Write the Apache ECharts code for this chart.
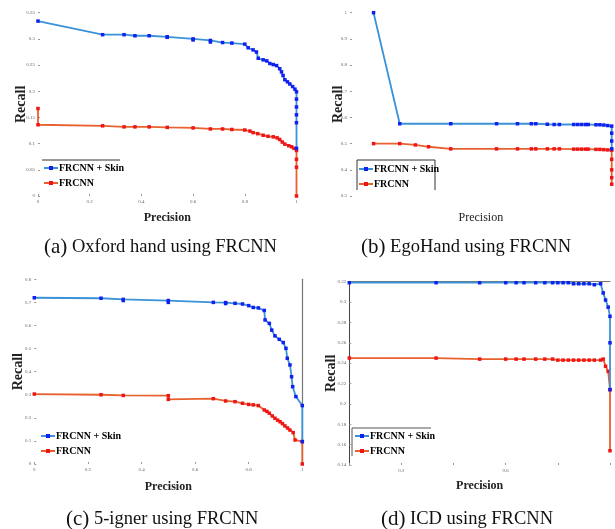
<!DOCTYPE html>
<html>
<head>
<meta charset="utf-8">
<script src="https://cdn.jsdelivr.net/npm/echarts@6/dist/echarts.min.js"></script>
<style>
  html, body { margin: 0; padding: 0; background: #fff; }
  #main { width: 615px; height: 529px; }
</style>
</head>
<body>
<div id="main"></div>
<script>
// [precision, recall] pairs
const oxfordSkin = [[0,0.334],[0.25,0.308],[0.333,0.308],[0.375,0.306],[0.43,0.306],[0.5,0.304],[0.5,0.303],[0.6,0.3],[0.6,0.298],[0.667,0.297],[0.667,0.294],[0.714,0.293],[0.75,0.292],[0.8,0.29],[0.813,0.283],[0.832,0.279],[0.845,0.275],[0.852,0.263],[0.871,0.26],[0.885,0.258],[0.897,0.253],[0.91,0.251],[0.923,0.249],[0.935,0.243],[0.942,0.237],[0.948,0.23],[0.955,0.222],[0.965,0.218],[0.974,0.214],[0.985,0.209],[0.994,0.204],[1,0.199],[1,0.185],[1,0.17],[1,0.155],[1,0.14],[1,0.091]]
const oxfordBase = [[0,0.167],[0,0.136],[0.25,0.134],[0.333,0.132],[0.375,0.132],[0.43,0.132],[0.5,0.131],[0.6,0.13],[0.667,0.128],[0.714,0.128],[0.75,0.127],[0.8,0.126],[0.82,0.124],[0.832,0.121],[0.85,0.119],[0.871,0.116],[0.89,0.114],[0.91,0.113],[0.925,0.111],[0.935,0.108],[0.945,0.103],[0.955,0.099],[0.97,0.096],[0.981,0.094],[0.99,0.091],[1,0.087],[1,0.07],[1,0.055],[1,0]]

const egoSkin = [[0.09,1],[0.19,0.576],[0.385,0.576],[0.56,0.576],[0.64,0.576],[0.693,0.576],[0.71,0.576],[0.754,0.574],[0.78,0.573],[0.8,0.573],[0.855,0.573],[0.87,0.573],[0.885,0.573],[0.9,0.573],[0.91,0.573],[0.94,0.572],[0.955,0.572],[0.97,0.571],[0.985,0.569],[1,0.567],[1,0.54],[1,0.51],[1,0.48]]
const egoBase = [[0.09,0.5],[0.19,0.5],[0.25,0.495],[0.3,0.488],[0.385,0.48],[0.56,0.48],[0.64,0.48],[0.693,0.48],[0.71,0.48],[0.754,0.48],[0.78,0.48],[0.8,0.48],[0.855,0.479],[0.87,0.479],[0.885,0.479],[0.9,0.479],[0.91,0.479],[0.94,0.478],[0.955,0.478],[0.97,0.477],[0.985,0.476],[1,0.475],[1,0.44],[1,0.4],[1,0.37],[1,0.345]]

const fiveSkin = [[0,0.72],[0.249,0.718],[0.332,0.713],[0.332,0.708],[0.5,0.708],[0.5,0.7],[0.668,0.7],[0.714,0.699],[0.714,0.695],[0.749,0.696],[0.777,0.693],[0.8,0.686],[0.817,0.678],[0.836,0.676],[0.858,0.665],[0.861,0.624],[0.877,0.609],[0.886,0.58],[0.898,0.555],[0.914,0.54],[0.929,0.526],[0.939,0.501],[0.944,0.458],[0.954,0.429],[0.96,0.378],[0.964,0.335],[0.976,0.292],[1,0.253],[1,0.097]]
const fiveBase = [[0,0.303],[0.249,0.3],[0.332,0.297],[0.5,0.296],[0.5,0.28],[0.668,0.283],[0.714,0.273],[0.749,0.27],[0.777,0.263],[0.8,0.258],[0.817,0.256],[0.836,0.253],[0.858,0.234],[0.868,0.228],[0.877,0.22],[0.888,0.208],[0.898,0.198],[0.908,0.19],[0.917,0.183],[0.926,0.175],[0.935,0.165],[0.945,0.156],[0.954,0.147],[0.966,0.136],[0.973,0.104],[1,0.097],[1,0]]

const icdSkin = [[0,0.319],[0.333,0.319],[0.5,0.319],[0.6,0.319],[0.64,0.319],[0.67,0.319],[0.715,0.319],[0.75,0.319],[0.78,0.319],[0.8,0.319],[0.82,0.319],[0.84,0.319],[0.86,0.318],[0.88,0.318],[0.9,0.318],[0.92,0.318],[0.94,0.317],[0.964,0.318],[0.974,0.309],[0.983,0.302],[0.993,0.295],[1,0.286],[1,0.26],[1,0.214]]
const icdBase = [[0,0.245],[0.333,0.245],[0.5,0.244],[0.6,0.244],[0.64,0.244],[0.67,0.244],[0.715,0.244],[0.75,0.244],[0.78,0.244],[0.8,0.243],[0.82,0.243],[0.84,0.243],[0.86,0.243],[0.88,0.243],[0.9,0.243],[0.92,0.243],[0.94,0.243],[0.964,0.243],[0.974,0.244],[0.983,0.237],[0.993,0.232],[1,0.214],[1,0.154]]

const seriesNames = ['FRCNN + Skin', 'FRCNN']
const captions = ['(a)', '(b)', '(c)', '(d)']
const captionTexts = ['Oxford hand using FRCNN', 'EgoHand using FRCNN', '5-igner using FRCNN', 'ICD using FRCNN']
// y ranges: [min, max, interval]
const yRanges = [[0, 0.35, 0.05], [0.3, 1, 0.1], [0, 0.8, 0.1], [0.14, 0.32, 0.02]]

const serif = 'Liberation Serif'

function xAx(gi, extra) {
  return Object.assign({
    type: 'value', gridIndex: gi, min: 0, max: 1, interval: 0.2,
    axisLine: { show: false },
    splitLine: { show: false },
    axisTick: { inside: true, length: 2, lineStyle: { color: '#999' } },
    axisLabel: { fontSize: 5, color: '#666', margin: 3, fontFamily: serif },
    name: 'Precision', nameLocation: 'middle', nameGap: 16, nameMoveOverlap: false,
    nameTextStyle: { fontFamily: serif, fontSize: 12, fontWeight: 'bold', color: '#222' }
  }, extra)
}
function yAx(gi, gap, extra) {
  const r = yRanges[gi]
  return Object.assign({
    type: 'value', gridIndex: gi, min: r[0], max: r[1], interval: r[2],
    axisLine: { show: false },
    splitLine: { show: false },
    axisTick: { inside: true, length: 2, lineStyle: { color: '#999' } },
    axisLabel: { fontSize: 5, color: '#666', margin: 3, fontFamily: serif },
    name: 'Recall', nameLocation: 'middle', nameGap: gap, nameMoveOverlap: false,
    nameTextStyle: { fontFamily: serif, fontSize: 14, fontWeight: 'bold', color: '#222' }
  }, extra)
}
function ser(name, data, gi) {
  const skin = name === seriesNames[0]
  return {
    name, type: 'line', data, xAxisIndex: gi, yAxisIndex: gi,
    symbol: 'rect', symbolSize: 3.5, showSymbol: true,
    itemStyle: { color: skin ? '#1020ee' : '#f01515' },
    lineStyle: { color: skin ? '#3a92d8' : '#e8602e', width: 1.8 },
    z: skin ? 3 : 2
  }
}
function leg(left, top) {
  return {
    left, top, orient: 'vertical', padding: 0, itemGap: 5,
    itemWidth: 14, itemHeight: 5, data: seriesNames,
    textStyle: { fontFamily: serif, fontSize: 10, fontWeight: 'bold', color: '#000', padding: [0, 0, 0, -4] }
  }
}
function cap(i, left, top) {
  return {
    text: '{p|' + captions[i] + '} ' + captionTexts[i],
    left, top,
    textStyle: {
      fontFamily: serif, fontSize: 18.5, fontWeight: 'normal', color: '#111',
      rich: { p: { fontFamily: serif, fontSize: 21, color: '#111' } }
    }
  }
}

const chart = echarts.init(document.querySelector('#main'))
const option = {
  animation: false,
  grid: [
    { left: 38, top: 12.7, width: 258.5, height: 183.3 },
    { left: 350, top: 12.7, width: 261.7, height: 183.3 },
    { left: 34.3, top: 279.3, width: 268, height: 184.7 },
    { left: 349.3, top: 281.7, width: 260.7, height: 183.3 }
  ],
  xAxis: [
    xAx(0),
    xAx(1, { axisLabel: { show: false }, axisTick: { show: false },
      nameTextStyle: { fontFamily: serif, fontSize: 12, color: '#222' } }),
    xAx(2, { nameGap: 17 }),
    xAx(3, { nameGap: 15, axisLabel: { fontSize: 5, color: '#666', margin: 3, fontFamily: serif,
      formatter: v => (Math.abs(v - 0.2) < 1e-6 || Math.abs(v - 0.6) < 1e-6) ? String(v) : '' } }),
    // top frame line of panel (d)
    { type: 'value', gridIndex: 3, position: 'top', min: 0, max: 1,
      axisLine: { show: true, lineStyle: { color: '#777', width: 1.2 } },
      axisTick: { show: false }, axisLabel: { show: false }, splitLine: { show: false } }
  ],
  yAxis: [
    yAx(0, 10),
    yAx(1, 5),
    yAx(2, 9),
    yAx(3, 11, { axisLine: { show: true, lineStyle: { color: '#444' } } }),
    // right frame line of panel (c)
    { type: 'value', gridIndex: 2, position: 'right', min: 0, max: 0.8,
      axisLine: { show: true, lineStyle: { color: '#777', width: 1.2 } },
      axisTick: { show: false }, axisLabel: { show: false }, splitLine: { show: false } }
  ],
  legend: [leg(43, 163), leg(358, 164), leg(40, 431), leg(354, 431)],
  title: [cap(0, 39, 232), cap(1, 356, 232), cap(2, 61, 504), cap(3, 376, 504)],
  graphic: [
    { type: 'line', shape: { x1: 42, y1: 160, x2: 120, y2: 160 }, style: { stroke: '#333', lineWidth: 1 } },
    { type: 'polyline', shape: { points: [[357, 190], [357, 160], [435, 160], [435, 190]] }, style: { stroke: '#333', lineWidth: 1, fill: null } },
    { type: 'polyline', shape: { points: [[352, 456], [352, 428], [431, 428]] }, style: { stroke: '#555', lineWidth: 1, fill: null } }
  ],
  series: [
    ser(seriesNames[0], oxfordSkin, 0), ser(seriesNames[1], oxfordBase, 0),
    ser(seriesNames[0], egoSkin, 1), ser(seriesNames[1], egoBase, 1),
    ser(seriesNames[0], fiveSkin, 2), ser(seriesNames[1], fiveBase, 2),
    ser(seriesNames[0], icdSkin, 3), ser(seriesNames[1], icdBase, 3)
  ]
}
chart.setOption(option)
</script>
</body>
</html>
